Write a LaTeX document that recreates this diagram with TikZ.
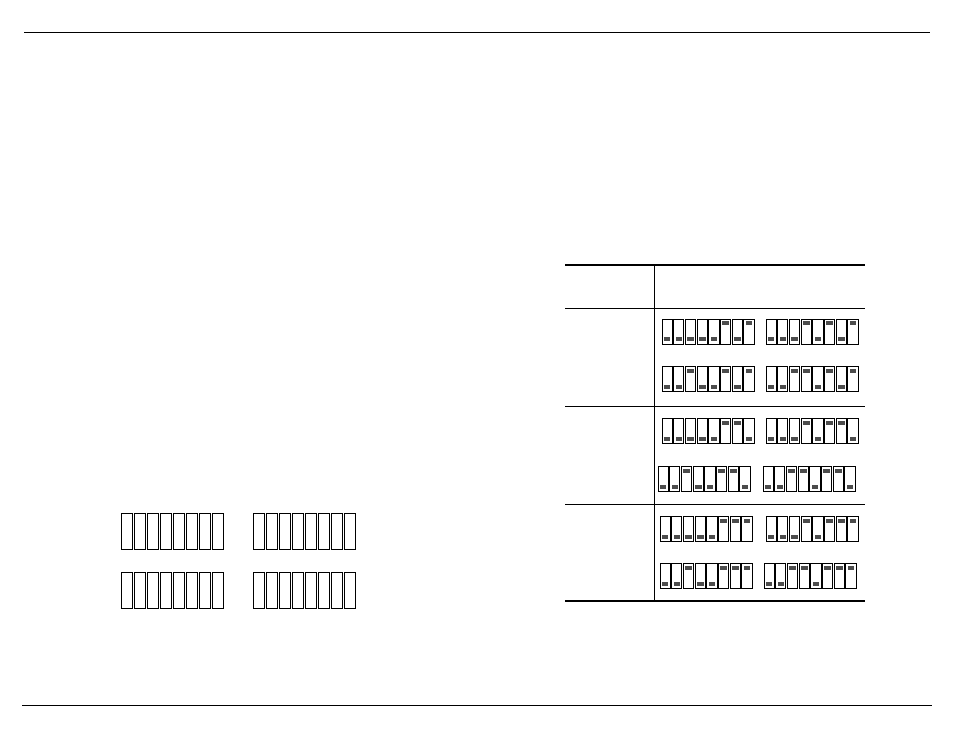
\documentclass[tikz,border=0pt]{standalone}
\newcommand{\dipbank}[4]{% x, y, switch width, pattern
  \foreach \s [count=\i from 0] in {#4} {
    \draw[line width=0.9pt] ({#1+\i*#3},#2) rectangle ++(#3-1.5,25);
    \ifnum\s=1
      \fill[black!70] ({#1+\i*#3+1.8},#2+2.5) rectangle ++(#3-5.1,4);
    \else
      \fill[black!70] ({#1+\i*#3+1.8},#2+18.5) rectangle ++(#3-5.1,4);
    \fi
  }
}
\begin{document}
\begin{tikzpicture}[x=1pt,y=-1pt]
\tikzstyle{rule}=[line width=0.6pt]
\tikzstyle{thickrule}=[line width=1.1pt]
\useasboundingbox (0,0) rectangle (954,738);
% page rules
\draw[rule] (24,32) -- (930,32);
\draw[rule] (22,705) -- (932,705);
% blank switches
\foreach \y in {513,572} {
  \foreach \x in {121,253} {
    \foreach \i in {0,...,7}
      \draw[line width=0.9pt] (\x+\i*13,\y) rectangle ++(11.5,36);
  }
}
% table
\draw[thickrule] (565,265) -- (865,265);
\draw[rule] (565,308) -- (865,308);
\draw[rule] (565,406) -- (865,406);
\draw[rule] (565,504) -- (865,504);
\draw[thickrule] (565,601) -- (865,601);
\draw[rule] (654,265) -- (654,601);
% settings
\dipbank{662}{319}{11.7}{0,0,0,0,0,1,0,1}
\dipbank{766}{319}{11.7}{0,0,0,1,0,1,0,1}
\dipbank{662}{366}{11.7}{0,0,1,0,0,1,0,1}
\dipbank{766}{366}{11.7}{0,0,1,1,0,1,0,1}
\dipbank{662}{418}{11.7}{0,0,0,0,0,1,1,0}
\dipbank{766}{418}{11.7}{0,0,0,1,0,1,1,0}
\dipbank{658}{466}{11.7}{0,0,1,0,0,1,1,0}
\dipbank{763}{466}{11.7}{0,0,1,1,0,1,1,0}
\dipbank{660}{516}{11.7}{0,0,0,0,0,1,1,1}
\dipbank{766}{516}{11.7}{0,0,0,1,0,1,1,1}
\dipbank{660}{563}{11.7}{0,0,1,0,0,1,1,1}
\dipbank{764}{563}{11.7}{0,0,1,1,0,1,1,1}
\end{tikzpicture}
\end{document}
